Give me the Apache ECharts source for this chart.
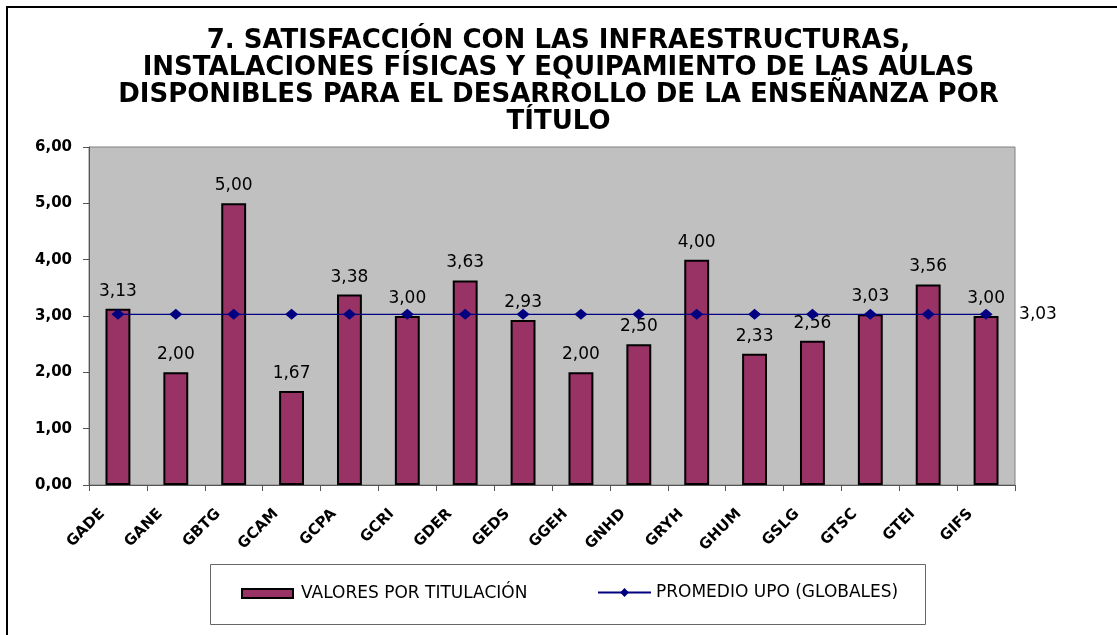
<!DOCTYPE html>
<html>
<head>
<meta charset="utf-8">
<script src="https://cdn.jsdelivr.net/npm/echarts@6/dist/echarts.min.js"></script>
<style>
  html, body { margin: 0; padding: 0; background: #fff; }
  #chart { width: 1117px; height: 635px; }
</style>
</head>
<body>
<div id="chart"></div>
<script>
const titulos = ['GADE', 'GANE', 'GBTG', 'GCAM', 'GCPA', 'GCRI', 'GDER', 'GEDS',
  'GGEH', 'GNHD', 'GRYH', 'GHUM', 'GSLG', 'GTSC', 'GTEI', 'GIFS']
const valores = [3.13, 2.00, 5.00, 1.67, 3.38, 3.00, 3.63, 2.93,
  2.00, 2.50, 4.00, 2.33, 2.56, 3.03, 3.56, 3.00]
const promedio = [3.03, 3.03, 3.03, 3.03, 3.03, 3.03, 3.03, 3.03,
  3.03, 3.03, 3.03, 3.03, 3.03, 3.03, 3.03, 3.03]
const yTicks = [0, 6, 1] // min, max, interval

const coma = v => Number(v).toFixed(2).replace('.', ',')

const chart = echarts.init(document.getElementById('chart'))

let option = {
  animation: false,
  title: {
    text: '7. SATISFACCIÓN CON LAS INFRAESTRUCTURAS,\nINSTALACIONES FÍSICAS Y EQUIPAMIENTO DE LAS AULAS\nDISPONIBLES PARA EL DESARROLLO DE LA ENSEÑANZA POR\nTÍTULO',
    left: 'center',
    top: 28,
    padding: 0,
    textStyle: {
      fontFamily: 'DejaVu Sans',
      fontWeight: 'bold',
      fontSize: 26,
      lineHeight: 27,
      color: '#000'
    }
  },
  graphic: [
    {
      // marco exterior
      type: 'rect',
      shape: {x: 7, y: 7, width: 1200, height: 700},
      style: {fill: 'none', stroke: '#000', lineWidth: 2},
      silent: true
    },
    {
      // caja de la leyenda
      type: 'rect',
      shape: {x: 210.5, y: 564.5, width: 715, height: 60},
      style: {fill: 'none', stroke: '#666', lineWidth: 1},
      silent: true
    }
  ],
  grid: {
    left: 89,
    right: 102,
    top: 147,
    bottom: 150,
    show: true,
    backgroundColor: '#c0c0c0',
    borderColor: '#808080',
    borderWidth: 1
  },
  legend: [
    {
      data: ['VALORES POR TITULACIÓN'],
      left: 241,
      top: 585,
      padding: 0,
      icon: 'rect',
      itemWidth: 51,
      itemHeight: 9,
      textStyle: {fontFamily: 'DejaVu Sans', fontSize: 17, color: '#000', padding: [0, 0, 0, 3]}
    },
    {
      data: ['PROMEDIO UPO (GLOBALES)'],
      left: 597,
      top: 584,
      padding: 0,
      itemWidth: 53,
      itemHeight: 11,
      textStyle: {fontFamily: 'DejaVu Sans', fontSize: 17, color: '#000'}
    }
  ],
  xAxis: {
    type: 'category',
    data: titulos,
    boundaryGap: true,
    axisLine: {lineStyle: {color: '#555', width: 1}},
    axisTick: {show: true, interval: 0, length: 6, lineStyle: {color: '#555'}},
    axisLabel: {
      interval: 0,
      rotate: 45,
      margin: 11,
      padding: [0, 22, 0, 0],
      fontFamily: 'DejaVu Sans',
      fontWeight: 'bold',
      fontSize: 15,
      color: '#000'
    },
    splitLine: {show: false}
  },
  yAxis: {
    type: 'value',
    min: yTicks[0],
    max: yTicks[1],
    interval: yTicks[2],
    axisLine: {show: true, lineStyle: {color: '#555', width: 1}},
    axisTick: {show: true, length: 6, lineStyle: {color: '#555'}},
    axisLabel: {
      margin: 17,
      formatter: coma,
      fontFamily: 'DejaVu Sans',
      fontWeight: 'bold',
      fontSize: 15,
      color: '#000'
    },
    splitLine: {show: false}
  },
  series: [
    {
      name: 'VALORES POR TITULACIÓN',
      type: 'bar',
      data: valores,
      barWidth: '43%',
      itemStyle: {
        color: '#993366',
        borderColor: '#000',
        borderWidth: 2
      },
      label: {
        show: true,
        position: 'top',
        distance: 9,
        formatter: p => coma(p.value),
        fontFamily: 'DejaVu Sans',
        fontSize: 17,
        color: '#000'
      }
    },
    {
      name: 'PROMEDIO UPO (GLOBALES)',
      type: 'line',
      data: promedio,
      symbol: 'diamond',
      symbolSize: [13, 11],
      lineStyle: {color: '#000080', width: 1.2},
      itemStyle: {color: '#000080'},
      endLabel: {
        show: true,
        distance: 33,
        formatter: p => coma(p.value),
        fontFamily: 'DejaVu Sans',
        fontSize: 17,
        color: '#000'
      }
    }
  ]
}

chart.setOption(option)
</script>
</body>
</html>
